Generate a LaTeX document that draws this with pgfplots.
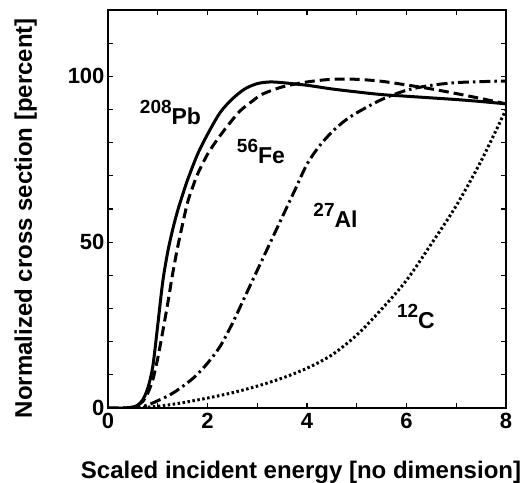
\documentclass[border=0pt]{standalone}
\usepackage{fontspec}
\setmainfont{Liberation Sans}
\usepackage{pgfplots}
\pgfplotsset{compat=1.18}
\newcommand\iso[2]{\raisebox{11pt}{\fontsize{19}{19}\selectfont #1}#2}
\begin{document}
\begin{tikzpicture}
\begin{axis}[
 scale only axis, width=398pt, height=398pt,
 xmin=0, xmax=8, ymin=0, ymax=120,
 xtick={0,1,...,8}, xticklabels={0,,2,,4,,6,,8},
 ytick={0,10,...,120}, yticklabels={0,,,,,50,,,,,100,,},
 tick align=inside, major tick length=5pt,
 tick style={line width=1.3pt, black},
 axis line style={line width=1.8pt},
 ticklabel style={font=\fontsize{22}{24}\selectfont\bfseries},
 xticklabel style={yshift=-2pt},
 /pgf/number format/assume math mode=true,
 xlabel={Scaled incident energy [no dimension]},
 ylabel={Normalized cross section [percent]},
 label style={font=\fontsize{24}{28}\selectfont\bfseries},
 xlabel style={at={(axis description cs:0.485,-0.1776)}, anchor=base},
 ylabel style={at={(axis description cs:-0.191,0.477)}, anchor=base},
 every axis plot/.append style={line width=3pt, black, line cap=butt},
]
% 208Pb solid
\addplot[smooth, tension=0.5] coordinates {
(0,0) (0.3,0) (0.5,0.3) (0.6,0.9) (0.7,2.5) (0.8,6) (0.9,12.5) (1.0,25) (1.1,38)
(1.2,47) (1.3,53.8) (1.4,59.5) (1.5,64.3) (1.6,68.8) (1.8,76.5) (2.0,82.5)
(2.25,89) (2.5,93.2) (2.75,96.2) (3.0,97.8) (3.25,98.3) (3.5,98.1) (4.0,97.3)
(4.5,96.2) (5.0,95.3) (5.5,94.5) (6.0,94) (6.5,93.5) (7.0,93) (7.5,92.4) (8.0,91.7)};
% 56Fe dashed
\addplot[smooth, tension=0.5, dash pattern=on 10pt off 5pt] coordinates {
(0,0) (0.4,0) (0.55,0.5) (0.7,2) (0.8,4.5) (0.9,8.5) (1.0,15) (1.1,23) (1.2,31.5)
(1.3,40.5) (1.4,48.5) (1.5,55.5) (1.6,62) (1.7,66.5) (1.8,70.5) (2.0,76.5)
(2.2,81) (2.4,85) (2.65,89.5) (2.9,92.5) (3.1,94.6) (3.5,96.8) (4.0,98.3)
(4.5,99.1) (5.0,99.1) (5.5,98.5) (6.0,97.4) (6.5,96.2) (7.0,94.8) (7.5,93.3) (8.0,91.7)};
% 27Al dash-dot
\addplot[smooth, tension=0.5, dash pattern=on 11pt off 4pt on 2.5pt off 4pt] coordinates {
(0,0) (0.5,0) (0.6,0.2) (0.8,0.9) (1.0,2.2) (1.25,4) (1.5,6.5) (1.75,9.5)
(2.0,13.5) (2.25,18.5) (2.5,25.5) (2.75,33.5) (3.0,41.5) (3.25,49.5) (3.5,57.5)
(3.75,65.5) (4.0,73.5) (4.25,79) (4.5,83.2) (4.75,86.5) (5.0,89) (5.5,93)
(6.0,95.8) (6.5,97.3) (7.0,98.1) (7.5,98.4) (8.0,98.6)};
% 12C dotted
\addplot[smooth, tension=0.5, dash pattern=on 2.5pt off 2.5pt] coordinates {
(0.5,0) (1.0,0.5) (1.5,1.6) (2.0,3) (2.5,4.6) (3.0,6.6) (3.5,9) (4.0,12)
(4.5,16) (5.0,22) (5.5,29.8) (6.0,38.5) (6.5,49.5) (7.0,61) (7.5,74.5) (8.0,90)};
\node[font=\fontsize{23}{23}\selectfont\bfseries] at (axis cs:1.256,89) {\iso{208}{Pb}};
\node[font=\fontsize{23}{23}\selectfont\bfseries] at (axis cs:3.075,77.3) {\iso{56}{Fe}};
\node[font=\fontsize{23}{23}\selectfont\bfseries] at (axis cs:4.573,58.2) {\iso{27}{Al}};
\node[font=\fontsize{23}{23}\selectfont\bfseries] at (axis cs:6.19,27.6) {\iso{12}{C}};
\end{axis}
\pgfresetboundingbox
\path[use as bounding box] ([shift={(-108pt,-74.7pt)}]current axis.south west) rectangle ([shift={(16pt,10pt)}]current axis.north east);
\end{tikzpicture}
\end{document}
